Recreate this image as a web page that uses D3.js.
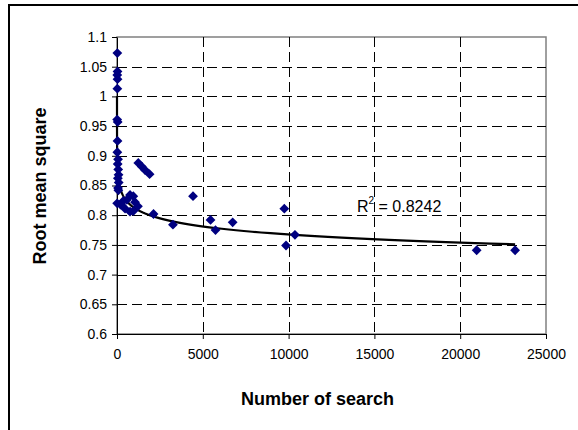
<!DOCTYPE html>
<html>
  <head>
    <meta charset="UTF-8">
    <title>Root mean square vs number of search</title>
    <style>
      body {margin: 0; background: #fff;}
      svg {display: block; font-family: "Liberation Sans", Arial, sans-serif;}
      .tick text {font-size: 14px; fill: #000;}
      .tick line, .domain {stroke: #000;}
      .title {font-size: 18px; font-weight: bold; text-anchor: middle;}
      .grid line {stroke: #000; stroke-dasharray: 10,5; stroke-width: 1;}
    </style>
  </head>
  <body>
    <div id="chart"></div>
    <script src="https://d3js.org/d3.v7.min.js"></script>
    <script>

// number of search (x) and root mean square (y)
const searches = [
  20, 30, 15, 30, 20, 10, 40, 30, 20, 60, 40, 70, 90, 50, 100, 60, 80, 10, 200,
  370, 470, 580, 760, 950, 1050, 760, 950, 1220,
  1241, 1440, 1632, 1900,
  2130, 3260, 4430, 5450, 5740, 6740, 9750, 9850, 10370, 20960, 23200
];
const rms = [
  1.073, 1.042, 1.036, 1.029, 1.013, 0.961, 0.957, 0.925, 0.906, 0.894, 0.886, 0.877, 0.868, 0.862, 0.855, 0.846, 0.842, 0.820, 0.818,
  0.824, 0.811, 0.826, 0.834, 0.832, 0.822, 0.806, 0.807, 0.815,
  0.888, 0.882, 0.876, 0.869,
  0.802, 0.784, 0.832, 0.792, 0.775, 0.788, 0.811, 0.749, 0.767, 0.741, 0.741
];

// logarithmic trend line y = a*ln(x) + b
const trendA = -0.0196, trendB = 0.948;
const trendStart = 0.07, trendEnd = 23200;
const rSquared = "0.8242";

const xTicks = [0, 5000, 10000, 15000, 20000, 25000];
const yTicks = [0.6, 0.65, 0.7, 0.75, 0.8, 0.85, 0.9, 0.95, 1, 1.05, 1.1];

const width = 578, height = 430;
const plot = {left: 117, right: 546, top: 37, bottom: 334};

const svg = d3.select("#chart").append("svg")
  .attr("width", width)
  .attr("height", height);

// outer chart border
svg.append("rect")
  .attr("x", 9).attr("y", 5)
  .attr("width", 640).attr("height", 500)
  .attr("fill", "none").attr("stroke", "#000").attr("stroke-width", 2);

const x = d3.scaleLinear().domain([0, 25000]).range([plot.left, plot.right]);
const y = d3.scaleLinear().domain([0.6, 1.1]).range([plot.bottom, plot.top]);

// plot area border
svg.append("rect")
  .attr("x", plot.left).attr("y", plot.top)
  .attr("width", plot.right - plot.left).attr("height", plot.bottom - plot.top)
  .attr("fill", "none").attr("stroke", "#808080").attr("stroke-width", 1.5);

// gridlines
const grid = svg.append("g").attr("class", "grid");
grid.selectAll(".h").data(yTicks.slice(1, -1)).join("line")
  .attr("x1", plot.left).attr("x2", plot.right)
  .attr("y1", d => Math.round(y(d)) + 0.5).attr("y2", d => Math.round(y(d)) + 0.5);
grid.selectAll(".v").data(xTicks.slice(1, -1)).join("line")
  .attr("y1", plot.top).attr("y2", plot.bottom)
  .attr("x1", d => Math.round(x(d)) + 0.5).attr("x2", d => Math.round(x(d)) + 0.5);

// axes
svg.append("g")
  .attr("transform", `translate(${plot.left},0)`)
  .call(d3.axisLeft(y).tickValues(yTicks).tickSize(5).tickSizeOuter(0).tickPadding(5).tickFormat(d => String(d)));

svg.append("g")
  .attr("transform", `translate(0,${plot.bottom})`)
  .call(d3.axisBottom(x).tickValues(xTicks).tickSize(5).tickSizeOuter(0).tickPadding(10).tickFormat(d => String(d)));

// trend line
const trendXs = d3.range(0, 201).map(i => trendStart * Math.pow(trendEnd / trendStart, i / 200));
svg.append("path")
  .datum(trendXs)
  .attr("fill", "none")
  .attr("stroke", "#000")
  .attr("stroke-width", 2.2)
  .attr("d", d3.line().x(d => x(d)).y(d => y(trendA * Math.log(d) + trendB)));

// points
svg.append("g").selectAll("path").data(searches).join("path")
  .attr("transform", (d, i) => `translate(${x(d)},${y(rms[i])}) rotate(45)`)
  .attr("d", d3.symbol().type(d3.symbolSquare).size(48))
  .attr("fill", "#000080");

// R squared label
const r2 = svg.append("text")
  .attr("x", 357).attr("y", 212)
  .attr("font-size", 16);
r2.append("tspan").text("R");
r2.append("tspan").attr("dy", -8).attr("font-size", 10).text("2");
r2.append("tspan").attr("dy", 8).text(" = " + rSquared);

// axis titles
svg.append("text")
  .attr("class", "title")
  .attr("x", (plot.left + plot.right) / 2 - 14)
  .attr("y", 405)
  .text("Number of search");

svg.append("text")
  .attr("class", "title")
  .attr("transform", "rotate(-90)")
  .attr("x", -186)
  .attr("y", 46)
  .text("Root mean square");

 </script>
  </body>
</html>
